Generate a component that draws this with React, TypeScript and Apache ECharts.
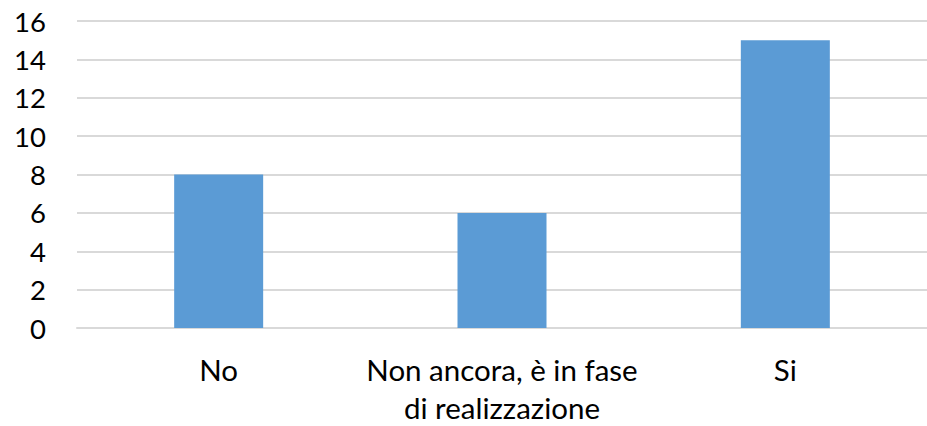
import React, { useEffect, useRef } from "react";
import * as echarts from "echarts";

const categories = ["No", "Non ancora, è in fase\ndi realizzazione", "Si"];
const values = [8, 6, 15];
const yMin = 0;
const yMax = 16;
const yInterval = 2;

export default function App() {
  const ref = useRef<HTMLDivElement>(null);
  useEffect(() => {
    const chart = echarts.init(ref.current!, null, { renderer: "svg" });
    chart.setOption({
      animation: false,
      backgroundColor: "#ffffff",
      grid: { left: 77, right: 0, top: 21, bottom: 91, containLabel: false },
      xAxis: {
        type: "category",
        data: categories,
        axisLine: { show: true, lineStyle: { color: "#d9d9d9", width: 2 } },
        axisTick: { show: false },
        axisLabel: {
          color: "#000000",
          fontFamily: "Lato",
          fontSize: 29.5,
          lineHeight: 38,
          margin: 22,
          interval: 0,
        },
      },
      yAxis: {
        type: "value",
        min: yMin,
        max: yMax,
        interval: yInterval,
        axisLine: { show: false },
        axisTick: { show: false },
        splitLine: { lineStyle: { color: "#d9d9d9", width: 2 } },
        axisLabel: {
          color: "#000000",
          fontFamily: "Lato",
          fontSize: 27.5,
          margin: 31,
        },
      },
      series: [
        {
          type: "bar",
          data: values,
          barWidth: 89,
          itemStyle: { color: "#5b9bd5" },
        },
      ],
    });
    return () => chart.dispose();
  }, []);
  return (
    <div
      ref={ref}
      style={{ position: "fixed", left: 0, top: 0, width: 927, height: 426 }}
    />
  );
}
